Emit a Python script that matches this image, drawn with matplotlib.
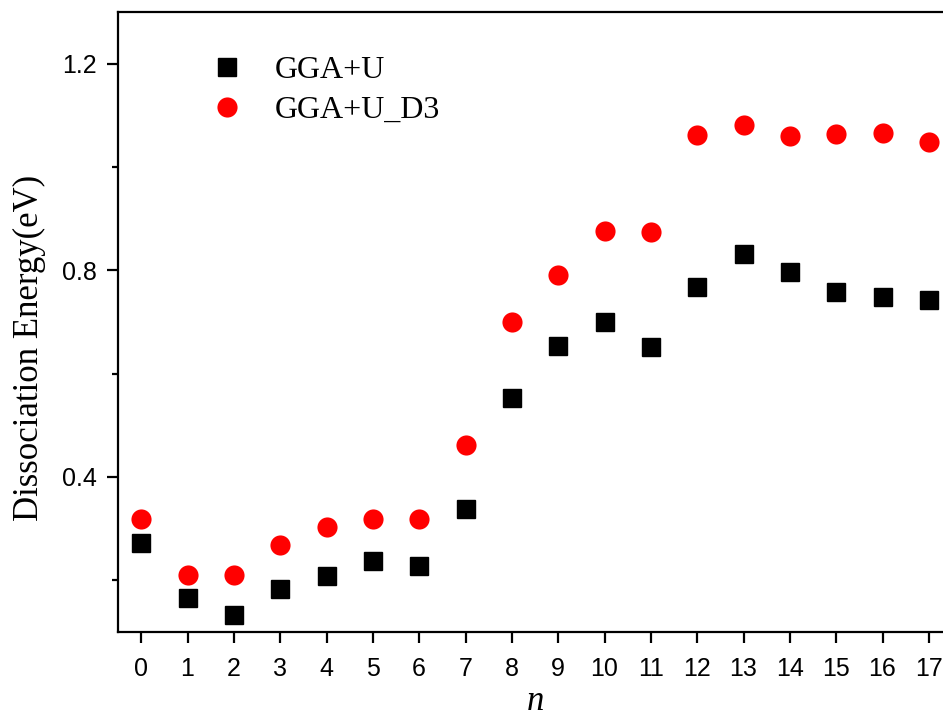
import matplotlib
matplotlib.use("Agg")
import matplotlib.pyplot as plt
from matplotlib.ticker import MultipleLocator

n = list(range(18))
gga_u = [0.272, 0.166, 0.133, 0.184, 0.209, 0.237, 0.227, 0.338, 0.553,
         0.654, 0.700, 0.651, 0.767, 0.832, 0.796, 0.759, 0.749, 0.742]
gga_u_d3 = [0.319, 0.211, 0.211, 0.269, 0.303, 0.319, 0.319, 0.461, 0.700,
            0.791, 0.877, 0.874, 1.061, 1.081, 1.060, 1.064, 1.066, 1.049]
labels = ["GGA+U", "GGA+U_D3"]

fig = plt.figure(figsize=(9.43, 7.19), dpi=100)
# right edge of the frame runs past the figure border
ax = fig.add_axes([118 / 943, 87 / 719, 834 / 943, 620 / 719])

ax.plot(n, gga_u, "s", color="black", markersize=13, label=labels[0])
ax.plot(n, gga_u_d3, "o", color="red", markersize=14.5, markeredgewidth=0,
        label=labels[1])

ax.set_xlim(-0.5, 17.5)
ax.set_ylim(0.1, 1.3)
ax.set_xticks(n)
ax.yaxis.set_major_locator(MultipleLocator(0.4))
ax.yaxis.set_minor_locator(MultipleLocator(0.2))

for side in ax.spines.values():
    side.set_linewidth(1.6)
ax.spines["right"].set_visible(False)
ax.tick_params(axis="both", which="major", direction="out", length=8,
               width=1.6, labelsize=18, labelfontfamily="Liberation Sans")
ax.tick_params(axis="x", pad=10)
ax.tick_params(axis="y", pad=7)
ax.tick_params(axis="y", which="minor", direction="out", length=4.5, width=1.6)
ax.tick_params(axis="x", which="minor", bottom=False)

ax.set_ylabel("Dissociation Energy(eV)", fontsize=25,
              fontfamily="Liberation Serif")
ax.yaxis.set_label_coords(-0.086, 0.458)
ax.set_xlabel("n", fontsize=25, fontfamily="Liberation Serif",
              fontstyle="italic", labelpad=3)

ax.legend(loc="upper left", bbox_to_anchor=(0.077, 0.976), frameon=False,
          prop={"family": "Liberation Serif", "size": 23},
          handlelength=1.0, handletextpad=1.0, labelspacing=0.33)

plt.savefig("out.png", dpi=100)
